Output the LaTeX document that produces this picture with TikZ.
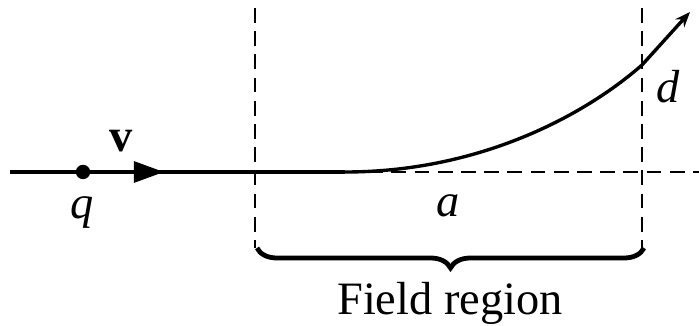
\documentclass[tikz,border=0pt]{standalone}
\usepackage{fontspec}
\setmainfont{Liberation Serif}
\usetikzlibrary{arrows.meta,positioning,calc,decorations.pathreplacing}
\tikzset{
  traj/.style={line width=2.4pt},
  guide/.style={line width=2pt,dash pattern=on 10.5pt off 6pt},
  dot/.style={circle,fill=black,inner sep=0pt,minimum size=0.36cm},
  lbl/.style={font=\fontsize{33}{36}\selectfont,inner sep=0pt},
  regionbrace/.style={line width=3.4pt,decorate,
                      decoration={brace,mirror,amplitude=0.5cm}},
}

\begin{document}
\begin{tikzpicture}[x=0.025cm,y=-0.025cm]
  \useasboundingbox (0,0) rectangle (699,326);
  % axis and field boundaries
  \coordinate (start) at (10,172);
  \coordinate (bend) at (345,172);
  \coordinate (axisend) at (699,172);
  \coordinate (ltop) at (255,8);
  \coordinate (lbot) at (255,248);
  \coordinate (rtop) at (642,8);
  \coordinate (rbot) at (642,248);
  \coordinate (exit) at (642,65);
  \coordinate (tip) at (690,12);
  \coordinate (vtip) at (164,172);
  \node[dot] (q) at (83,172) {};

  \draw[traj] (start) -- (bend);
  \draw[guide] (bend) -- (axisend);
  \draw[guide] (ltop) -- (lbot);
  \draw[guide] (rtop) -- (rbot);
  \draw[traj,-{Triangle[length=0.75cm,width=0.52cm]}] (q) -- (vtip);
  \draw[traj,-{Stealth[length=0.38cm,width=0.3cm]}] (bend)
    .. controls (480,172) and (585,115) .. (exit) -- (tip);

  \draw[regionbrace] ($(lbot)+(2,0)$) -- ($(rbot)+(2,0)$);

  \node[lbl,anchor=base] (vlab) at (121,152) {\textbf{v}};
  \node[lbl,anchor=base] (qlab) at (82,219) {\textit{q}};
  \node[lbl,anchor=base] (alab) at (448,217) {\textit{a}};
  \node[lbl,anchor=base] (dlab) at (668,103) {\textit{d}};
  \node[lbl,anchor=base] (field) at (450,315) {Field region};
\end{tikzpicture}
\end{document}
